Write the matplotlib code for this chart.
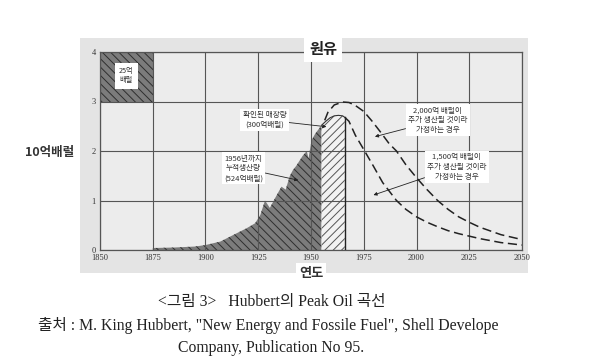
import matplotlib
matplotlib.use("Agg")
import matplotlib.pyplot as plt
from matplotlib.patches import Rectangle

plt.rcParams['font.family'] = ['Noto Sans CJK KR', 'DejaVu Sans']
plt.rcParams['hatch.linewidth'] = 0.7

# ---- data ----
hist_years = [1875, 1885, 1895, 1900, 1907, 1913, 1919.5, 1923.5, 1926, 1928.2, 1930.5,
              1933, 1936, 1938, 1940, 1941.5, 1943, 1946, 1948, 1948.8, 1950.3, 1952, 1955]
hist_vals = [0.04, 0.05, 0.07, 0.1, 0.17, 0.3, 0.44, 0.54, 0.71, 1.0, 0.85,
             1.05, 1.28, 1.22, 1.5, 1.62, 1.7, 1.9, 2.0, 1.85, 2.22, 2.35, 2.52]

reserve_years = [1955, 1957, 1959, 1961, 1963, 1965, 1966]
reserve_vals = [2.52, 2.6, 2.67, 2.71, 2.72, 2.71, 2.68]

high_years = [1956.5, 1958, 1961, 1965, 1968, 1971, 1975, 1979, 1983, 1987, 1990.5,
              1995, 2000, 2005, 2010, 2015, 2020, 2025, 2030, 2040, 2050]
high_vals = [2.62, 2.78, 2.93, 2.99, 2.98, 2.92, 2.8, 2.6, 2.38, 2.15, 2.0,
             1.72, 1.46, 1.22, 1.0, 0.82, 0.67, 0.56, 0.46, 0.31, 0.21]

low_years = [1966, 1968, 1971, 1975, 1979.5, 1984, 1990.5, 1995, 2000, 2005, 2010,
             2015, 2020, 2025, 2030, 2040, 2050]
low_vals = [2.68, 2.6, 2.32, 2.03, 1.7, 1.36, 1.0, 0.82, 0.67, 0.56, 0.47,
            0.39, 0.33, 0.28, 0.23, 0.15, 0.1]

x_ticks = [1850, 1875, 1900, 1925, 1950, 1975, 2000, 2025, 2050]
y_ticks = [0, 1, 2, 3, 4]

W, H = 590, 361
fig = plt.figure(figsize=(W / 100, H / 100), dpi=100)
fig.patch.set_facecolor('white')

# grey scanned panel behind the chart
fig.patches.append(Rectangle((80 / W, 1 - 273 / H), (528 - 80) / W, (273 - 38) / H,
                             transform=fig.transFigure, facecolor='#e4e4e4',
                             edgecolor='none', zorder=-5))

ax = fig.add_axes([100 / W, 1 - 250 / H, (522 - 100) / W, (250 - 52) / H])
ax.set_zorder(2)
ax.set_facecolor('#ececec')
ax.set_xlim(1850, 2050)
ax.set_ylim(0, 4)
ax.set_xticks(x_ticks)
ax.set_yticks(y_ticks)
ax.tick_params(length=0, labelsize=6, colors='#333333', pad=3)
ax.set_xticklabels([str(t) for t in x_ticks], family=['Liberation Serif'])
ax.set_yticklabels([str(t) for t in y_ticks], family=['Liberation Serif'])
for s in ax.spines.values():
    s.set_color('#555555')
    s.set_linewidth(0.9)
ax.grid(True, color='#555555', linewidth=0.8, zorder=3)
ax.set_axisbelow(False)

# cumulative production (dark hatch)
ax.fill_between(hist_years, 0, hist_vals, facecolor='#7c7c7c', edgecolor='#2e2e2e',
                hatch='\\\\\\\\', linewidth=0, zorder=2)
# proven reserves (light hatch)
ax.fill_between(reserve_years, 0, reserve_vals, facecolor='#f2f2f2', edgecolor='#555555',
                hatch='////', linewidth=0, zorder=2)
ax.plot([reserve_years[-1], reserve_years[-1]], [0, reserve_vals[-1]], color='#222222',
        linewidth=1.0, zorder=4)
ax.plot(reserve_years, reserve_vals, color='#333333', linewidth=0.8, zorder=4)

# 25억 배럴 scale box
ax.add_patch(Rectangle((1850, 3), 25, 1, facecolor='#7c7c7c', edgecolor='#2e2e2e',
                       hatch='\\\\\\\\', linewidth=0, zorder=2))
ax.text(1862.5, 3.52, '25억\n배럴', fontsize=5.2, ha='center', va='center',
        linespacing=1.2, zorder=6, color='#333333',
        bbox=dict(boxstyle='square,pad=0.6', facecolor='white', edgecolor='none'))

# forecast curves
ax.plot(high_years, high_vals, color='#222222', linewidth=1.1, linestyle=(0, (6, 3)), zorder=5)
ax.plot(low_years, low_vals, color='#222222', linewidth=1.1, linestyle=(0, (6, 3)), zorder=5)

box = dict(boxstyle='square,pad=0.3', facecolor='white', edgecolor='none')
arrow = dict(arrowstyle='-|>', color='#222222', linewidth=0.6, mutation_scale=5,
             shrinkA=0, shrinkB=0)
fs = 5.5
ax.annotate('확인된 매장량\n(300억배럴)', xy=(1957.3, 2.49), xytext=(1928, 2.63),
            fontsize=fs, ha='center', va='center', linespacing=1.3, bbox=box,
            arrowprops=arrow, zorder=7, color='#333333')
ax.annotate('1956년까지\n누적생산량\n(524억배럴)', xy=(1944, 1.41), xytext=(1918, 1.65),
            fontsize=fs, ha='center', va='center', linespacing=1.3, bbox=box,
            arrowprops=arrow, zorder=7, color='#333333')
ax.annotate('2,000억 배럴이\n추가 생산될 것이라\n가정하는 경우', xy=(1980.3, 2.29),
            xytext=(2010, 2.62), fontsize=fs, ha='center', va='center', linespacing=1.3,
            bbox=box, arrowprops=arrow, zorder=7, color='#333333')
ax.annotate('1,500억 배럴이\n추가 생산될 것이라\n가정하는 경우', xy=(1979.6, 1.11),
            xytext=(2019, 1.68), fontsize=fs, ha='center', va='center', linespacing=1.3,
            bbox=box, arrowprops=arrow, zorder=7, color='#333333')

# title and axis labels
fig.text(323 / W, 1 - 49 / H, '원유', fontsize=11, fontweight='bold', ha='center',
         va='center', color='#222222', zorder=10,
         bbox=dict(boxstyle='square,pad=0.3', facecolor='white', edgecolor='none'))
fig.text(50 / W, 1 - 153 / H, '10억배럴', fontsize=9, fontweight='bold', ha='center',
         va='center', color='#333333')
fig.text(311 / W, 1 - 273 / H, '연도', fontsize=9.5, fontweight='bold', ha='center',
         va='center', color='#333333', zorder=10,
         bbox=dict(boxstyle='square,pad=0.2', facecolor='white', edgecolor='none'))

# caption
cap = ['Liberation Serif', 'Noto Sans CJK KR']
fig.text(272 / W, 1 - 302 / H, '<그림 3>   Hubbert의 Peak Oil 곡선', fontsize=11.3,
         ha='center', va='center', family=cap, color='#222222')
fig.text(268 / W, 1 - 326 / H,
         '출처 : M. King Hubbert, "New Energy and Fossile Fuel", Shell Develope',
         fontsize=11.3, ha='center', va='center', family=cap, color='#222222')
fig.text(271 / W, 1 - 348 / H, 'Company, Publication No 95.', fontsize=11.3,
         ha='center', va='center', family=cap, color='#222222')

fig.savefig('out.png', dpi=100)
